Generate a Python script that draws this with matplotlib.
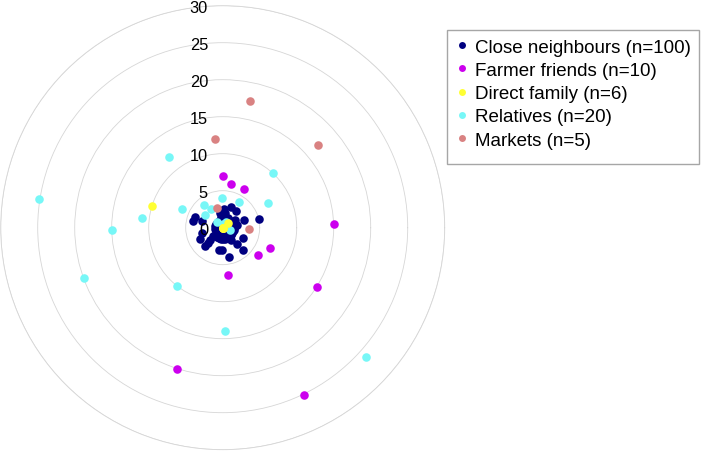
import numpy as np
import matplotlib
matplotlib.use("Agg")
import matplotlib.pyplot as plt
from matplotlib.lines import Line2D
from matplotlib.patches import Rectangle
from matplotlib.transforms import offset_copy

plt.rcParams['font.family'] = ['Liberation Sans', 'DejaVu Sans']

# ---------------- data ----------------
ring_ticks = [0, 5, 10, 15, 20, 25, 30]

series_names = ["Close neighbours (n=100)", "Farmer friends (n=10)",
                "Direct family (n=6)", "Relatives (n=20)", "Markets (n=5)"]
series_colors = ["#000080", "#cc00ee", "#ffff33", "#77f7f7", "#d98282"]

# Close neighbours: distance (r) and direction (degrees)
close_r = [4.0, 4.1, 3.0, 2.9, 3.5, 3.5, 2.9, 2.4, 3.0, 3.0,
           4.0, 3.0, 4.1, 3.1, 2.0, 3.1, 5.0, 2.0, 2.0, 2.9,
           3.0, 2.5, 2.0, 2.0, 1.0, 1.7, 1.5, 1.3, 0.8,
           0, 0, 0, 0, 0, 0, 0, 0, 0, 0, 0,
           0.5, 0.5, 0.5, 0.5, 0.5, 0.5, 0.5, 0.5, 0.5, 0.5, 0.5, 0.5, 0.5, 0.5, 0.5, 0.5,
           1, 1, 1, 1, 1, 1, 1, 1, 1, 1, 1, 1, 1, 1, 1, 1, 1, 1, 1, 1, 1, 1, 1, 1,
           1.5, 1.5, 1.5, 1.5, 1.5, 1.5, 1.5, 1.5, 1.5, 1.5, 1.5, 1.5, 1.5, 1.5, 1.5, 1.5, 1.5, 1.5, 1.5, 1.5]
close_theta = [159, 167, 162, -165, -153, -134, -135, -138, -99, -93,
               -78, -49, -47, -28, -54, 20, 14, 12, 32, 52,
               69, 86, 100, 80, -140, -140, -104, -65, 176,
               0, 0, 0, 0, 0, 0, 0, 0, 0, 0, 0,
               0, 20, 45, 70, 90, 115, 135, 160, 180, 205, 225, 250, 270, 295, 315, 340,
               0, 15, 30, 45, 60, 75, 90, 105, 120, 150, 170, 190, 210, 225, 240, 255,
               270, 285, 300, 310, 320, 330, 340, 350,
               -90, -80, -70, -60, -50, -40, -30, -20, -10, 0, 10, 20, 40, 60, -100, -110,
               -120, 100, 80, 5]

farmer_r = [7.0, 6.0, 6.0, 15.1, 7.0, 6.0, 6.5, 15.1, 20.1, 25.1]
farmer_theta = [90, 79.6, 60.8, 1.9, -22.9, -37.2, -83.7, -32, -108, -64]

family_r = [10.0, 0, 0, 0, 0, 0.9]
family_theta = [163.2, 0, 0, 0, 0, 40]

relatives_r = [12.0, 25.1, 10.05, 7.0, 11.0, 15.0, 6.0, 4.0, 4.0, 4.05,
               3.0, 3.0, 20.0, 10.0, 14.0, 26.1, 1.1, 0.9, 1.0, 0.5]
relatives_theta = [127.1, 171.1, 47.7, 28.7, 173.2, 181, 155, 129, 92, 57.8,
                   120.4, 143.7, -160, -128, -88.7, -41.9, 132, 58.6, -15, 90]

markets_r = [17.55, 12.0, 17.1, 2.8, 3.5]
markets_theta = [77.9, 95, 40.9, 107, -2.9]

# ---------------- plot ----------------
fig = plt.figure(figsize=(7.01, 4.52), dpi=100)
ax = fig.add_axes([0.001, 0.0029, 0.6334, 0.9823], projection='polar')

series = [(close_theta, close_r), (farmer_theta, farmer_r),
          (relatives_theta, relatives_r), (family_theta, family_r),
          (markets_theta, markets_r)]
order_colors = [series_colors[0], series_colors[1], series_colors[3],
                series_colors[2], series_colors[4]]
for (th, r), c in zip(series, order_colors):
    ax.scatter(np.deg2rad(th), r, s=38, color=c, linewidths=0, zorder=3)

ax.set_ylim(0, 30)
ax.set_yticks(ring_ticks[1:])
ax.set_yticklabels([])
ax.set_xticks([])
ax.yaxis.grid(True, color='#d6d6d6', lw=0.6)
ax.spines['polar'].set_color('#d6d6d6')
ax.spines['polar'].set_linewidth(0.6)
ax.tick_params(length=0)

trans = offset_copy(ax.transData, fig=fig, x=-14.7, y=-1.5, units='dots')
for t in ring_ticks:
    ax.text(np.pi / 2, t, str(t), transform=trans, ha='right', va='center',
            fontsize=11.8, color='black', zorder=4)

# legend box drawn as a figure rectangle
fig.patches.append(Rectangle((447 / 701, 1 - 165 / 452), 252 / 701, 134 / 452,
                             transform=fig.transFigure, facecolor='white',
                             edgecolor='#a6a6a6', linewidth=1.0, zorder=0))

handles = [Line2D([], [], marker='o', linestyle='none', markersize=5,
                  markerfacecolor=c, markeredgewidth=0) for c in series_colors]
leg = fig.legend(handles, series_names, loc='upper left',
                 bbox_to_anchor=(447 / 701, 1 - 31 / 452), borderaxespad=0,
                 fontsize=13.5, frameon=False,
                 borderpad=0.45, handlelength=0.7,
                 handletextpad=0.33, labelspacing=0.33)

fig.savefig("out.png", dpi=100)
